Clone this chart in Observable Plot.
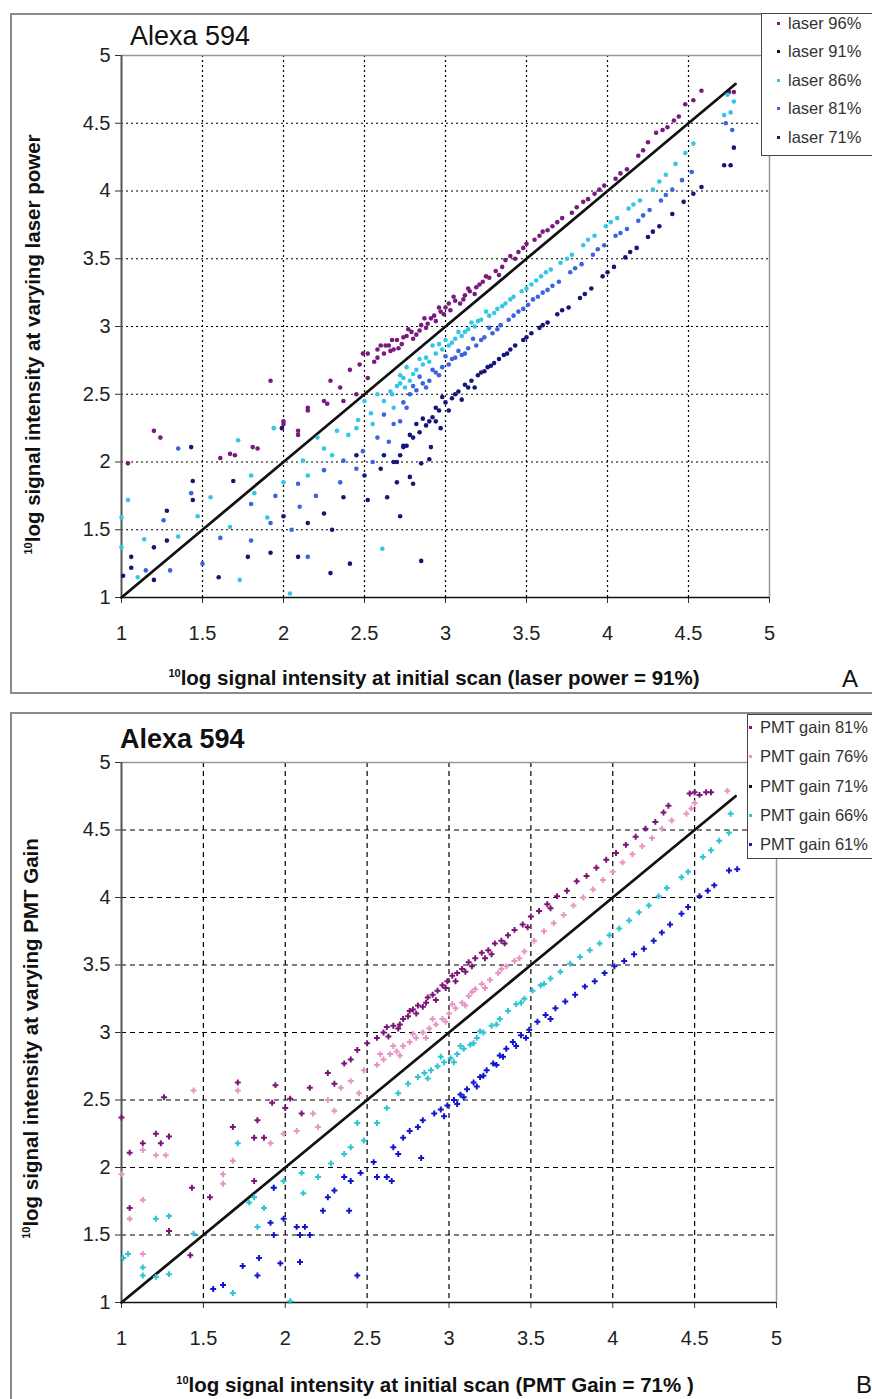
<!DOCTYPE html>
<html><head><meta charset="utf-8">
<script src="https://cdn.jsdelivr.net/npm/d3@7"></script>
<script src="https://cdn.jsdelivr.net/npm/@observablehq/plot@0.6"></script>
<style>
body{margin:0;background:#fff;font-family:"Liberation Sans",Arial,sans-serif;}
#root{position:relative;width:872px;height:1399px;overflow:hidden;background:#fff;}
.frame{position:absolute;border:2px solid #8a8a8a;box-sizing:border-box;}
.legend{position:absolute;border:1.5px solid #444;background:#fff;box-sizing:border-box;}
.item{position:absolute;font-size:16.5px;color:#333;white-space:nowrap;line-height:18px;}
.mk{position:absolute;width:3px;height:3px;}
.title{position:absolute;font-size:27px;color:#111;white-space:nowrap;}
.ylab{position:absolute;width:600px;text-align:center;font-size:20.5px;font-weight:bold;color:#111;transform:rotate(-90deg);white-space:nowrap;line-height:22px;}
.xlab{position:absolute;text-align:center;font-size:20.5px;font-weight:bold;color:#111;white-space:nowrap;line-height:22px;}
sup{font-size:11px;vertical-align:8px;}
.letter{position:absolute;font-size:24px;color:#111;}
</style>
</head><body><div id="root"></div>
<script>
// ---------- Data ----------
const tickValues = [1, 1.5, 2, 2.5, 3, 3.5, 4, 4.5, 5];
const gridValues = [1.5, 2, 2.5, 3, 3.5, 4, 4.5];

// Panel A: laser power series, [initial, varying]
const laser96 = [
 [2.29,2.60],[2.41,2.68],[2.15,2.38],[2.09,2.23],[1.61,2.03],[1.84,2.10],[1.20,2.23],[1.24,2.18],[1.04,1.99],[1.92,2.60],
 [2.35,2.55],[2.47,2.72],[2.25,2.45],[1.70,2.05],[2.00,2.30],[2.15,2.40],[2.27,2.43],[2.37,2.45],[2.49,2.80],[2.58,2.77],
 [2.66,2.82],[1.81,2.11],[1.67,2.06],[2.09,2.20],[2.00,2.28],[2.52,2.62],[2.45,2.50],
 [2.52,2.80],[2.56,2.74],[2.58,2.83],[2.62,2.80],[2.65,2.86],[2.68,2.83],[2.70,2.90],[2.73,2.87],[2.76,2.93],[2.79,2.96],
 [2.82,2.94],[2.85,3.01],[2.88,2.99],[2.91,3.06],[2.94,3.04],[2.97,3.11],[3.00,3.14],[3.03,3.12],[3.06,3.19],[3.09,3.17],
 [3.12,3.23],[3.15,3.26],[3.19,3.29],[3.23,3.33],[3.27,3.36],[3.31,3.41],[3.35,3.44],[3.40,3.52],[3.45,3.55],[3.50,3.61],
 [3.55,3.64],[3.60,3.70],[3.66,3.74],[3.72,3.80],[3.78,3.84],[3.85,3.92],[3.92,3.98],[3.98,4.04],[4.05,4.09],[4.12,4.16],
 [4.19,4.26],[4.25,4.36],[4.30,4.43],[4.37,4.47],[4.44,4.55],[4.48,4.64],[4.53,4.67],[4.58,4.74],[4.75,4.73],[4.78,4.73],
 [2.74,2.92],[2.84,2.97],[2.93,3.08],[3.02,3.17],[3.11,3.20],[3.21,3.31],[3.33,3.38],[2.63,2.86],[2.71,2.84],[2.89,3.02],
 [2.60,2.86],[2.67,2.90],[2.77,2.98],[2.87,3.06],[2.96,3.14],[3.05,3.22],[3.14,3.28],[3.25,3.37],[3.37,3.49],[3.48,3.58],
 [3.58,3.67],[3.69,3.77],[3.81,3.88],[3.95,4.01],[4.08,4.13],[4.22,4.30],[4.34,4.45],[4.41,4.52],[2.80,2.91],[2.99,3.09],
 [3.18,3.24],[3.43,3.50],[3.63,3.71],[3.88,3.94]
];
const laser91 = [
 [1.00,1.00],[1.50,1.50],[2.00,2.00],[2.50,2.50],[3.00,3.00],[3.50,3.50],[4.00,4.00],[4.50,4.50],[4.79,4.79]
];
const laser86 = [
 [1.94,2.25],[1.72,2.16],[1.00,1.59],[1.00,1.37],[1.04,1.72],[1.14,1.43],[1.55,1.74],[1.67,1.52],[1.82,1.77],[1.90,1.59],
 [2.04,1.03],[2.61,1.36],[1.73,1.13],[2.12,2.01],[2.21,2.18],[2.33,2.23],[2.46,2.31],[2.54,2.36],[2.62,2.45],[2.72,2.58],
 [2.00,1.85],[2.25,2.10],[2.40,2.20],[2.50,2.45],[2.58,2.50],[2.30,2.05],[2.15,1.90],[1.47,1.60],[1.35,1.45],[1.10,1.15],
 [1.80,1.90],[2.68,2.40],[2.45,2.25],[2.55,2.28],[2.66,2.52],
 [2.70,2.56],[2.74,2.62],[2.78,2.60],[2.82,2.68],[2.86,2.72],[2.90,2.74],[2.94,2.80],[2.98,2.83],[3.02,2.86],[3.06,2.91],
 [3.10,2.93],[3.14,2.98],[3.18,3.00],[3.22,3.05],[3.27,3.08],[3.32,3.13],[3.37,3.17],[3.42,3.22],[3.47,3.26],[3.53,3.31],
 [3.59,3.37],[3.65,3.42],[3.71,3.47],[3.78,3.53],[3.85,3.60],[3.92,3.67],[3.99,3.74],[4.06,3.80],[4.13,3.87],[4.20,3.93],
 [4.28,4.01],[4.36,4.12],[4.42,4.20],[4.48,4.28],[4.53,4.35],[4.72,4.56],[4.76,4.58],[4.74,4.71],[4.78,4.66],
 [2.76,2.70],[2.84,2.76],[2.92,2.86],[3.00,2.90],[3.08,2.96],[3.16,3.03],[3.25,3.11],
 [2.72,2.64],[2.80,2.65],[2.88,2.77],[2.96,2.87],[3.04,2.88],[3.12,2.96],[3.20,3.04],[3.30,3.10],[3.40,3.20],[3.50,3.28],
 [3.62,3.40],[3.75,3.50],[3.88,3.64],[4.02,3.77],[4.16,3.90],[4.32,4.07],[2.67,2.50],[2.75,2.55],[3.35,3.15],[3.56,3.34]
];
const laser81 = [
 [1.80,1.69],[1.92,1.55],[2.09,1.84],[2.10,1.67],[2.25,1.94],[2.37,2.01],[2.49,2.08],[2.58,2.18],[2.68,2.28],[2.76,2.40],
 [1.43,1.77],[1.61,1.44],[1.80,1.42],[1.26,1.57],[1.30,1.20],[2.20,1.75],[2.45,1.95],[2.55,2.00],[2.65,2.15],[2.72,2.30],
 [2.35,1.85],[2.05,1.50],[1.95,1.75],[2.15,1.30],[1.50,1.25],[1.15,1.20],[1.35,2.10],[2.62,2.35],
 [2.78,2.50],[2.82,2.53],[2.86,2.58],[2.90,2.60],[2.94,2.66],[2.98,2.70],[3.02,2.72],[3.06,2.77],[3.10,2.79],[3.14,2.84],
 [3.19,2.86],[3.24,2.92],[3.29,2.95],[3.34,3.01],[3.39,3.05],[3.45,3.11],[3.51,3.16],[3.57,3.22],[3.63,3.27],[3.70,3.33],
 [3.77,3.40],[3.84,3.46],[3.91,3.53],[3.98,3.60],[4.05,3.67],[4.12,3.72],[4.19,3.78],[4.26,3.86],[4.33,3.93],[4.40,4.01],
 [4.46,4.08],[4.52,4.14],[4.73,4.50],[4.77,4.45],
 [2.84,2.63],[2.92,2.68],[3.00,2.78],[3.08,2.82],[3.17,2.91],[3.27,2.99],
 [2.80,2.56],[2.88,2.55],[2.96,2.64],[3.04,2.76],[3.12,2.80],[3.22,2.90],[3.32,2.98],[3.42,3.08],[3.54,3.20],[3.66,3.30],
 [3.80,3.43],[3.94,3.57],[4.08,3.69],[4.22,3.82],[4.36,3.97],[2.74,2.44],[3.48,3.13],[3.60,3.25]
];
const laser71 = [
 [2.25,1.62],[2.37,1.74],[2.52,1.72],[2.64,1.74],[2.74,2.11],[2.78,1.89],[2.85,1.27],[2.85,1.99],[2.91,2.11],[2.97,2.25],
 [2.80,1.84],[2.41,1.25],[2.29,1.18],[2.09,1.30],[1.92,1.33],[1.78,1.30],[1.28,1.42],[1.20,1.37],[1.06,1.30],[1.06,1.22],
 [1.20,1.13],[1.01,1.16],[1.28,1.64],[1.44,1.86],[1.44,1.72],[1.69,1.86],[1.43,2.11],[1.99,2.25],[2.60,1.95],[2.68,2.00],
 [2.50,1.90],[2.70,1.85],[2.90,2.02],[2.62,2.05],[2.45,2.05],[2.15,1.55],[2.00,1.60],[2.30,1.50],[2.72,1.60],[1.60,1.15],
 [2.72,2.05],[2.76,2.12],[2.80,2.18],[2.84,2.22],[2.88,2.27],[2.92,2.33],[2.96,2.38],[3.00,2.44],[3.04,2.47],[3.08,2.52],
 [3.12,2.57],[3.16,2.60],[3.20,2.64],[3.24,2.67],[3.28,2.71],[3.33,2.76],[3.38,2.80],[3.43,2.86],[3.48,2.90],[3.53,2.95],
 [3.58,2.99],[3.63,3.03],[3.69,3.09],[3.76,3.14],[3.83,3.21],[3.90,3.28],[3.97,3.37],[4.04,3.44],[4.11,3.51],[4.18,3.58],
 [4.25,3.66],[4.32,3.74],[4.40,3.83],[4.47,3.92],[4.53,3.98],[4.58,4.03],[4.72,4.19],[4.76,4.19],[4.78,4.32],
 [2.86,2.32],[2.94,2.30],[3.02,2.38],[3.10,2.46],[3.18,2.55],[2.82,2.28],[2.98,2.48],
 [2.74,2.12],[2.78,2.20],[2.90,2.30],[2.94,2.40],[3.06,2.50],[3.14,2.55],[3.22,2.66],[3.30,2.73],[3.40,2.83],[3.50,2.92],
 [3.60,3.01],[3.72,3.12],[3.86,3.24],[4.00,3.40],[4.14,3.55],[4.28,3.70],[2.70,2.00],[3.26,2.70],[3.36,2.79]
];

// Panel B: PMT gain series, [initial, varying]
const pmt81 = [
 [1.71,2.63],[1.26,2.52],[1.21,2.25],[1.29,2.23],[1.13,2.18],[1.24,2.18],[1.05,2.11],[1.00,2.37],[1.68,2.30],[1.83,2.35],
 [1.87,2.22],[1.92,2.48],[1.94,2.61],[2.00,2.44],[2.03,2.51],[2.10,2.40],[2.15,2.59],[2.26,2.70],[2.36,2.77],[2.44,2.87],
 [2.50,2.92],[1.81,2.22],[1.54,1.78],[1.43,1.85],[1.05,1.70],[1.29,1.53],[1.42,1.35],[1.81,1.90],[2.30,2.62],[2.40,2.80],
 [2.56,2.96],[2.60,3.00],[2.63,2.97],[2.66,3.05],[2.69,3.03],[2.72,3.10],[2.75,3.12],[2.78,3.17],[2.81,3.20],[2.84,3.19],
 [2.87,3.26],[2.90,3.28],[2.93,3.31],[2.96,3.35],[2.99,3.38],[3.02,3.42],[3.05,3.44],[3.08,3.47],[3.12,3.52],[3.16,3.55],
 [3.20,3.59],[3.24,3.61],[3.28,3.66],[3.32,3.68],[3.36,3.72],[3.40,3.76],[3.45,3.80],[3.50,3.86],[3.55,3.90],[3.60,3.95],
 [3.66,4.01],[3.72,4.05],[3.78,4.12],[3.84,4.16],[3.90,4.22],[3.96,4.28],[4.02,4.33],[4.08,4.39],[4.14,4.45],[4.20,4.51],
 [4.26,4.56],[4.31,4.63],[4.34,4.68],[4.47,4.77],[4.50,4.78],[4.53,4.76],[4.57,4.78],[4.60,4.78],
 [2.70,3.06],[2.80,3.14],[2.92,3.24],[3.04,3.38],[3.14,3.49],[3.26,3.58],
 [2.62,3.04],[2.76,3.16],[2.86,3.22],[2.98,3.33],[3.10,3.45],[3.22,3.55],[3.34,3.66],[3.48,3.78],[3.62,3.92]
];
const pmt76 = [
 [1.44,2.57],[1.71,2.57],[1.68,2.05],[1.13,2.13],[1.21,2.09],[1.27,2.09],[1.00,1.95],[1.13,1.76],[1.05,1.62],[1.13,1.36],
 [1.62,1.95],[1.62,1.88],[1.91,2.18],[1.99,2.25],[2.07,2.27],[2.17,2.40],[2.26,2.50],[2.34,2.59],[2.40,2.64],[2.48,2.72],
 [2.20,2.30],[2.30,2.42],[2.45,2.55],
 [2.56,2.76],[2.60,2.80],[2.64,2.84],[2.68,2.86],[2.72,2.90],[2.76,2.93],[2.80,2.96],[2.84,3.00],[2.88,3.03],[2.92,3.06],
 [2.96,3.10],[3.00,3.14],[3.04,3.18],[3.08,3.22],[3.12,3.27],[3.16,3.32],[3.20,3.36],[3.25,3.39],[3.30,3.44],[3.35,3.49],
 [3.40,3.53],[3.46,3.60],[3.52,3.68],[3.58,3.75],[3.64,3.81],[3.70,3.87],[3.76,3.94],[3.82,4.00],[3.88,4.06],[3.94,4.13],
 [4.00,4.19],[4.06,4.26],[4.12,4.32],[4.18,4.38],[4.24,4.44],[4.30,4.51],[4.36,4.57],[4.45,4.62],[4.48,4.66],[4.50,4.70],
 [4.70,4.79],[2.66,2.90],[2.78,2.99],[2.90,3.10],[3.02,3.21],[3.14,3.30],
 [2.58,2.84],[2.70,2.83],[2.86,2.96],[2.98,3.08],[3.10,3.20],[3.22,3.33],[3.32,3.47],[3.43,3.55]
];
const pmt71 = [
 [1.00,1.00],[1.50,1.50],[2.00,2.00],[2.50,2.50],[3.00,3.00],[3.50,3.50],[4.00,4.00],[4.50,4.50],[4.75,4.75]
];
const pmt66 = [
 [1.01,1.33],[1.04,1.36],[1.13,1.26],[1.13,1.20],[1.21,1.19],[1.29,1.21],[1.21,1.62],[1.29,1.64],[1.44,1.51],[1.71,2.18],
 [1.68,1.07],[2.03,1.01],[1.81,1.78],[1.87,1.70],[1.83,1.56],[1.93,1.85],[1.99,1.90],[2.10,1.96],[2.11,1.81],[2.20,1.93],
 [2.28,2.03],[2.36,2.10],[2.44,2.33],[2.48,2.20],[2.56,2.33],[2.62,2.44],[2.69,2.55],[2.75,2.62],[1.78,1.74],[2.40,2.15],
 [2.81,2.67],[2.85,2.70],[2.89,2.72],[2.93,2.75],[2.97,2.78],[3.01,2.81],[3.05,2.84],[3.09,2.88],[3.13,2.91],[3.17,2.96],
 [3.21,3.00],[3.26,3.05],[3.31,3.10],[3.36,3.16],[3.41,3.21],[3.46,3.25],[3.51,3.31],[3.56,3.35],[3.62,3.40],[3.68,3.45],
 [3.74,3.51],[3.80,3.56],[3.86,3.61],[3.92,3.66],[3.98,3.72],[4.04,3.77],[4.10,3.83],[4.16,3.89],[4.22,3.94],[4.28,4.01],
 [4.33,4.07],[4.42,4.15],[4.46,4.19],[4.55,4.30],[4.60,4.35],[4.65,4.42],[4.71,4.48],[4.72,4.62],
 [2.95,2.82],[3.07,2.90],[3.19,3.01],[2.87,2.66],[3.03,2.78],[3.15,2.92],[3.29,3.06],[3.44,3.22],[3.58,3.36]
];
const pmt61 = [
 [1.93,1.85],[1.99,1.62],[1.91,1.59],[2.07,1.56],[2.12,1.56],[2.15,1.50],[2.09,1.50],[1.93,1.50],[2.26,1.78],[2.30,1.83],
 [2.36,1.93],[2.40,1.90],[2.46,1.96],[2.54,2.04],[2.56,1.93],[2.62,1.93],[2.65,1.90],[2.66,2.15],[2.72,2.22],[2.76,2.27],
 [2.81,2.30],[2.84,2.35],[2.69,2.10],[2.83,2.07],[2.44,1.20],[2.09,1.30],[1.97,1.29],[1.74,1.27],[1.62,1.13],[1.56,1.10],
 [1.84,1.33],[1.83,1.20],[2.23,1.68],[2.39,1.68],
 [2.91,2.40],[2.95,2.43],[2.99,2.46],[3.03,2.50],[3.07,2.54],[3.11,2.58],[3.15,2.63],[3.19,2.67],[3.23,2.72],[3.27,2.77],
 [3.31,2.83],[3.35,2.88],[3.39,2.93],[3.44,2.98],[3.49,3.02],[3.54,3.08],[3.59,3.13],[3.65,3.18],[3.71,3.23],[3.77,3.28],
 [3.83,3.34],[3.89,3.38],[3.95,3.44],[4.01,3.49],[4.07,3.53],[4.13,3.58],[4.19,3.62],[4.25,3.68],[4.30,3.74],[4.35,3.80],
 [4.42,3.88],[4.46,3.93],[4.53,4.01],[4.58,4.05],[4.62,4.09],[4.71,4.20],[4.76,4.21],
 [3.05,2.47],[3.17,2.60],[3.29,2.76],[3.41,2.90],[2.97,2.38],[3.09,2.52],[3.21,2.68],[3.33,2.82],[3.47,2.96],[3.62,3.10]
];

const seriesA = [
  {name: "laser 96%", data: laser96, color: "#7a1a7e"},
  {name: "laser 91%", data: laser91, color: "#111111", line: true},
  {name: "laser 86%", data: laser86, color: "#33c6e8"},
  {name: "laser 81%", data: laser81, color: "#3d63e0"},
  {name: "laser 71%", data: laser71, color: "#16167a"}
];
const seriesB = [
  {name: "PMT gain 81%", data: pmt81, color: "#7a1576"},
  {name: "PMT gain 76%", data: pmt76, color: "#e894c4"},
  {name: "PMT gain 71%", data: pmt71, color: "#111111", line: true},
  {name: "PMT gain 66%", data: pmt66, color: "#2ec4d6"},
  {name: "PMT gain 61%", data: pmt61, color: "#1414d0"}
];

// ---------- Drawing ----------
const root = document.getElementById("root");
function el(tag, cls, style, html) {
  const e = document.createElement(tag);
  if (cls) e.className = cls;
  Object.assign(e.style, style || {});
  if (html != null) e.innerHTML = html;
  root.appendChild(e);
  return e;
}

function panel(series, opt) {
  const marks = [
    Plot.ruleX(gridValues, {stroke: "#000", strokeWidth: 1.2, strokeDasharray: opt.dash}),
    Plot.ruleY(gridValues, {stroke: "#000", strokeWidth: 1.2, strokeDasharray: opt.dash}),
    Plot.ruleY([5], {stroke: "#999", strokeWidth: 1.5}),
    Plot.ruleX([5], {stroke: "#999", strokeWidth: 1.5}),
    Plot.axisY({ticks: tickValues, tickFormat: d => String(d), tickSize: 6, tickPadding: 5, fontSize: 20, label: null, stroke: "#333"}),
    Plot.axisX({ticks: tickValues, tickFormat: d => String(d), tickSize: 6, tickPadding: opt.xpad, fontSize: 20, label: null, stroke: "#333"}),
    Plot.ruleX([1], {stroke: "#555", strokeWidth: 2}),
    Plot.ruleY([1], {stroke: "#111", strokeWidth: 1.6})
  ];
  for (const s of series) {
    if (s.line) {
      marks.push(Plot.line(s.data, {x: d => d[0], y: d => d[1], stroke: s.color, strokeWidth: 2.8}));
    } else {
      marks.push(Plot.dot(s.data, {x: d => d[0], y: d => d[1], r: opt.r, fill: s.color, stroke: "none", symbol: opt.symbol}));
    }
  }
  return Plot.plot({
    width: 872, height: opt.height,
    marginLeft: 121, marginRight: opt.mr, marginTop: opt.mt, marginBottom: opt.mb,
    x: {domain: [1, 5]}, y: {domain: [1, 5]},
    style: {background: "transparent", fontFamily: "'Liberation Sans', Arial, sans-serif", color: "#222", overflow: "visible"},
    marks
  });
}

// frames
el("div", "frame", {left: "10px", top: "13px", width: "900px", height: "681px"});
el("div", "frame", {left: "10px", top: "712px", width: "900px", height: "720px"});

const pA = panel(seriesA, {height: 700, mt: 55, mb: 103, mr: 103, dash: "2,3", r: 2.3, symbol: "circle", xpad: 22});
pA.style.top = "0px"; pA.style.position = "absolute"; pA.style.left = "0px";
root.appendChild(pA);
const pB = panel(seriesB, {height: 699, mt: 62, mb: 97, mr: 96, dash: "5,4", r: 2.5, symbol: "cross", xpad: 22});
pB.style.top = "700px"; pB.style.position = "absolute"; pB.style.left = "0px";
root.appendChild(pB);

// titles
el("div", "title", {left: "130px", top: "21px"}, "Alexa 594");
el("div", "title", {left: "120px", top: "724px", fontWeight: "bold"}, "Alexa 594");

// axis labels
el("div", "ylab", {left: (30 - 300) + "px", top: (342 - 11) + "px"}, "<sup>10</sup>log signal intensity at varying laser power");
el("div", "ylab", {left: (28 - 300) + "px", top: (1036 - 11) + "px"}, "<sup>10</sup>log signal intensity at varying PMT Gain");
el("div", "xlab", {left: "134px", width: "600px", top: "662px"}, "<sup>10</sup>log signal intensity at initial scan (laser power = 91%)");
el("div", "xlab", {left: "135px", width: "600px", top: "1369px"}, "<sup>10</sup>log signal intensity at initial scan (PMT Gain = 71% )");
el("div", "letter", {left: "842px", top: "665px"}, "A");
el("div", "letter", {left: "856px", top: "1371px"}, "B");

// legends
function legend(series, box, ys, textX) {
  el("div", "legend", {left: box.x + "px", top: box.y + "px", width: box.w + "px", height: box.h + "px"});
  series.forEach((s, i) => {
    el("div", "mk", {left: (textX - 11) + "px", top: (ys[i] - 1) + "px", background: s.color});
    el("div", "item", {left: textX + "px", top: (ys[i] - 9) + "px"}, s.name);
  });
}
legend(seriesA, {x: 761, y: 13, w: 130, h: 143}, [23, 51, 80, 108, 137], 788);
legend(seriesB, {x: 747, y: 714, w: 140, h: 145}, [727, 756, 786, 815, 844], 760);
</script>
</body></html>
